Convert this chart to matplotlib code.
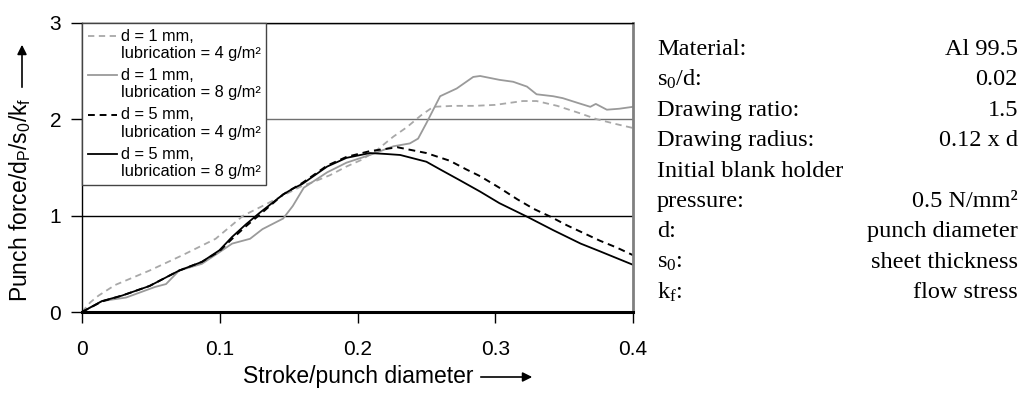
import numpy as np
import matplotlib
matplotlib.use("Agg")
import matplotlib.pyplot as plt
from matplotlib.legend_handler import HandlerLine2D

plt.rcParams['font.family'] = ['Liberation Sans', 'DejaVu Sans']
plt.rcParams['mathtext.fontset'] = 'custom'
plt.rcParams['mathtext.rm'] = 'Liberation Serif'
plt.rcParams['mathtext.sf'] = 'Liberation Sans'
plt.rcParams['mathtext.it'] = 'Liberation Serif:italic'

# d = 1 mm, lubrication 4 g/m2 (grey dashed)
stroke_a = [0, 0.006, 0.012, 0.024, 0.049, 0.073, 0.097, 0.117, 0.131, 0.146, 0.160,
            0.168, 0.18, 0.192, 0.203, 0.214, 0.226, 0.236, 0.246, 0.255, 0.27, 0.285,
            0.3, 0.31, 0.32, 0.33, 0.345, 0.36, 0.374, 0.388, 0.4]
force_a = [0, 0.1, 0.17, 0.28, 0.43, 0.59, 0.76, 1.0, 1.10, 1.21, 1.31,
           1.35, 1.42, 1.51, 1.58, 1.68, 1.82, 1.92, 2.04, 2.13, 2.14, 2.14,
           2.15, 2.17, 2.19, 2.19, 2.14, 2.07, 2.0, 1.95, 1.91]

# d = 1 mm, lubrication 8 g/m2 (grey solid)
stroke_b = [0, 0.0146, 0.032, 0.053, 0.061, 0.0705, 0.087, 0.0997, 0.109, 0.122, 0.131,
            0.146, 0.153, 0.161, 0.178, 0.192, 0.209, 0.226, 0.238, 0.244, 0.25, 0.26,
            0.272, 0.284, 0.289, 0.303, 0.313, 0.323, 0.33, 0.342, 0.349, 0.36, 0.369,
            0.373, 0.381, 0.39, 0.4]
force_b = [0, 0.114, 0.15, 0.26, 0.29, 0.43, 0.50, 0.62, 0.71, 0.76, 0.86,
           0.97, 1.10, 1.29, 1.45, 1.55, 1.63, 1.72, 1.75, 1.80, 1.96, 2.24,
           2.32, 2.44, 2.45, 2.41, 2.39, 2.34, 2.26, 2.24, 2.22, 2.17, 2.13,
           2.16, 2.10, 2.11, 2.13]

# d = 5 mm, lubrication 4 g/m2 (black dashed)
stroke_c = [0, 0.0146, 0.029, 0.049, 0.0705, 0.087, 0.0997, 0.109, 0.119, 0.129, 0.146,
            0.160, 0.178, 0.192, 0.209, 0.229, 0.25, 0.267, 0.279, 0.289, 0.303, 0.316,
            0.328, 0.340, 0.352, 0.364, 0.376, 0.388, 0.4]
force_c = [0, 0.11, 0.17, 0.27, 0.43, 0.52, 0.63, 0.76, 0.89, 1.01, 1.22,
           1.34, 1.52, 1.61, 1.67, 1.71, 1.65, 1.57, 1.48, 1.41, 1.29, 1.17,
           1.07, 0.99, 0.90, 0.82, 0.74, 0.67, 0.59]

# d = 5 mm, lubrication 8 g/m2 (black solid)
stroke_d = [0, 0.0146, 0.029, 0.049, 0.0705, 0.087, 0.0997, 0.109, 0.119, 0.129, 0.146,
            0.153, 0.160, 0.178, 0.192, 0.209, 0.221, 0.231, 0.25, 0.26, 0.274,
            0.289, 0.303, 0.323, 0.342, 0.362, 0.376, 0.4]
force_d = [0, 0.114, 0.17, 0.27, 0.43, 0.52, 0.64, 0.78, 0.91, 1.03, 1.22,
           1.28, 1.33, 1.51, 1.60, 1.65, 1.64, 1.63, 1.56, 1.48, 1.37,
           1.25, 1.13, 0.99, 0.85, 0.71, 0.63, 0.49]

series_labels = ["d = 1 mm,\nlubrication = 4 g/m²",
                 "d = 1 mm,\nlubrication = 8 g/m²",
                 "d = 5 mm,\nlubrication = 4 g/m²",
                 "d = 5 mm,\nlubrication = 8 g/m²"]

info_labels = ["Material:", "s$_0$/d:", "Drawing ratio:", "Drawing radius:",
               "Initial blank holder", "pressure:", "d:", "s$_0$:", "k$_\\mathrm{f}$:"]
info_values = ["Al 99.5", "0.02", "1.5", "0.12 x d", "", "0.5 N/mm²",
               "punch diameter", "sheet thickness", "flow stress"]

x_ticks = [0, 0.1, 0.2, 0.3, 0.4]
y_ticks = [0, 1, 2, 3]


class FirstLineHandler(HandlerLine2D):
    # put the legend line next to the first line of a two-line label
    def create_artists(self, legend, orig_handle, xdescent, ydescent, width,
                       height, fontsize, trans):
        arts = super().create_artists(legend, orig_handle, xdescent, ydescent,
                                      width, height, fontsize, trans)
        for a in arts:
            a.set_ydata(np.asarray(a.get_ydata()) + 0.55 * fontsize)
        return arts


W, H = 1027, 401
fig = plt.figure(figsize=(W / 100, H / 100), dpi=100)
ax = fig.add_axes([82 / W, 1 - 312 / H, (633 - 82) / W, (312 - 23) / H])

ax.plot(stroke_a, force_a, color='#a8a8a8', lw=1.3, ls=(0, (3.5, 2.5)), label=series_labels[0])
ax.plot(stroke_b, force_b, color='#9a9a9a', lw=1.3, label=series_labels[1])
ax.plot(stroke_c, force_c, color='black', lw=1.4, ls=(0, (3.5, 2.5)), label=series_labels[2])
ax.plot(stroke_d, force_d, color='black', lw=1.3, label=series_labels[3])

ax.set_xlim(0, 0.4)
ax.set_ylim(0, 3)
ax.set_xticks(x_ticks)
ax.set_xticklabels(["0", "0.1", "0.2", "0.3", "0.4"])
ax.set_yticks(y_ticks)
ax.tick_params(axis='x', direction='out', length=8, width=1, pad=12, labelsize=15)
ax.tick_params(axis='y', direction='out', length=8, width=1, pad=7, labelsize=15)

ax.grid(axis='y', color='black', lw=1)
ax.set_axisbelow(True)
ax.yaxis.get_gridlines()[2].set_color('#707070')

ax.spines['bottom'].set_linewidth(2.2)
ax.spines['left'].set_linewidth(1)
ax.spines['top'].set_linewidth(1)
ax.spines['right'].set_linewidth(2)
ax.spines['right'].set_color('#808080')

ax.legend(loc='upper left', bbox_to_anchor=(0, 1), borderaxespad=0,
          fancybox=False, edgecolor='#444444', framealpha=1, fontsize=11.8,
          handlelength=1.8, handletextpad=0.2, labelspacing=0.42, borderpad=0.35,
          handler_map={matplotlib.lines.Line2D: FirstLineHandler()})
ax.get_legend().get_frame().set_linewidth(1)

# axis titles with arrows
fig.text(20 / W, 1 - 200 / H, "Punch force/d$_\\mathsf{P}$/s$_\\mathsf{0}$/k$_\\mathsf{f}$",
         rotation=90, ha='center', va='center', fontsize=16.5)
fig.text(358 / W, 1 - 377 / H, "Stroke/punch diameter", ha='center', va='center', fontsize=16.5)
ax.annotate("", xy=(22, H - 42), xytext=(22, H - 90), xycoords='figure pixels',
            textcoords='figure pixels',
            arrowprops=dict(arrowstyle='-|>', color='black', lw=1.2, mutation_scale=14))
ax.annotate("", xy=(535, H - 377), xytext=(478, H - 377), xycoords='figure pixels',
            textcoords='figure pixels',
            arrowprops=dict(arrowstyle='-|>', color='black', lw=1.2, mutation_scale=14))

# material data block
for i, (lab, val) in enumerate(zip(info_labels, info_values)):
    yb = 1 - (55 + 30.4 * i) / H
    fig.text(657 / W, yb, lab, ha='left', va='baseline', fontsize=17.5,
             family='Liberation Serif')
    fig.text(1018 / W, yb, val, ha='right', va='baseline', fontsize=17.5,
             family='Liberation Serif')

fig.savefig("out.png", dpi=100)
